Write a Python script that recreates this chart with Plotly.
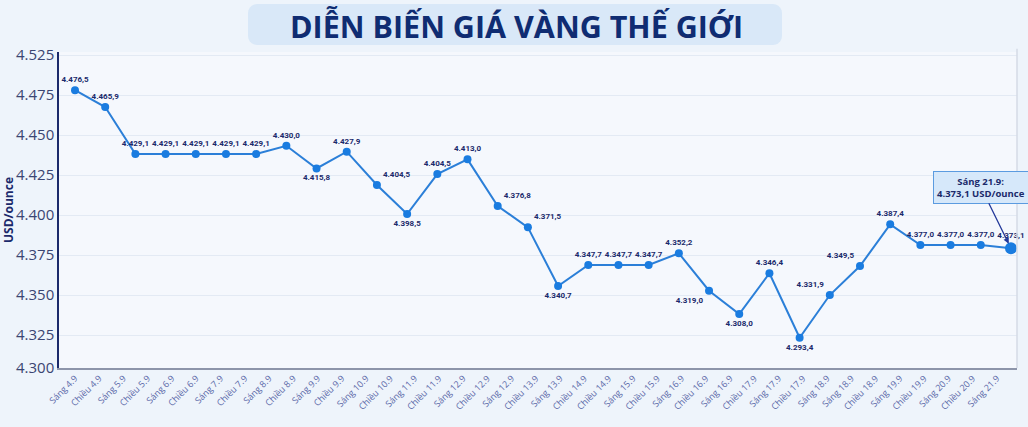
import numpy as np
import plotly.graph_objects as go

W, H = 1028, 427
NAVY = '#1b2a6b'
BLUE = '#2b7fd8'

# x-axis tick labels (39 sessions as printed)
session_labels = [
    'Sáng 4.9', 'Chiều 4.9', 'Sáng 5.9', 'Chiều 5.9', 'Sáng 6.9', 'Chiều 6.9',
    'Sáng 7.9', 'Chiều 7.9', 'Sáng 8.9', 'Chiều 8.9', 'Sáng 9.9', 'Chiều 9.9',
    'Sáng 10.9', 'Chiều 10.9', 'Sáng 11.9', 'Chiều 11.9', 'Sáng 12.9', 'Chiều 12.9',
    'Sáng 12.9', 'Chiều 13.9', 'Sáng 13.9', 'Chiều 14.9', 'Chiều 14.9', 'Sáng 15.9',
    'Chiều 15.9', 'Sáng 16.9', 'Chiều 16.9', 'Sáng 16.9', 'Chiều 17.9', 'Sáng 17.9',
    'Chiều 17.9', 'Sáng 18.9', 'Sáng 18.9', 'Chiều 18.9', 'Sáng 19.9', 'Chiều 19.9',
    'Sáng 20.9', 'Chiều 20.9', 'Sáng 21.9',
]

# plotted levels
price_level = [
    4.478, 4.4675, 4.4381, 4.4381, 4.4381, 4.4381, 4.4381, 4.4433,
    4.4291, 4.4396, 4.4188, 4.4006, 4.4256, 4.4348, 4.4056, 4.3923,
    4.3556, 4.3688, 4.3688, 4.3688, 4.3761, 4.3527, 4.3381, 4.3636,
    4.3233, 4.3500, 4.3681, 4.3942, 4.3813, 4.3813, 4.3813, 4.3792,
]

# printed value labels
price_text = [
    '4.476,5', '4.465,9', '4.429,1', '4.429,1', '4.429,1', '4.429,1', '4.429,1', '4.430,0',
    '4.415,8', '4.427,9', '4.404,5', '4.398,5', '4.404,5', '4.413,0', '4.376,8', '4.371,5',
    '4.340,7', '4.347,7', '4.347,7', '4.347,7', '4.352,2', '4.319,0', '4.308,0', '4.346,4',
    '4.293,4', '4.331,9', '4.349,5', '4.387,4', '4.377,0', '4.377,0', '4.377,0', '4.373,1',
]

# y tick labels as printed on the chart
y_tick_text = ['4.300', '4.325', '4.350', '4.375', '4.400', '4.425', '4.450', '4.475', '4.525']
y_tick_vals = [4.3044, 4.325, 4.35, 4.375, 4.4, 4.425, 4.45, 4.475, 4.5]

label_pos = (
    ['top center'] * 8
    + ['bottom center', 'top center', 'top right', 'bottom center', 'top center', 'top center',
       'top right', 'top right', 'bottom center']
    + ['top center'] * 4
    + ['bottom left', 'bottom center', 'top center', 'bottom center', 'top left', 'top left',
       'top center', 'top center', 'top center', 'top center', 'top center']
)

n = len(price_level)
xs = list(range(n))
sizes = [8] * (n - 1) + [12]

fig = go.Figure()
fig.add_trace(go.Scatter(
    x=xs, y=price_level,
    mode='lines+markers+text',
    line=dict(color=BLUE, width=2),
    marker=dict(color='#1a7ce0', size=sizes, opacity=1, line=dict(width=0)),
    text=price_text,
    textposition=label_pos,
    textfont=dict(family='Roboto', size=8, color=NAVY, weight='bold'),
    cliponaxis=False,
    showlegend=False,
))

L, R, T, B = 59, 11, 52, 59
pw, ph = W - L - R, H - T - B


def px_to_paper(px, py):
    return (px - L) / pw, (H - B - py) / ph


def rounded_box(x0, y0, x1, y1, r):
    # rounded rectangle given in page pixels, returned as a paper-space path
    pts = []
    for cx, cy, a0 in [(x1 - r, y0 + r, -90), (x1 - r, y1 - r, 0), (x0 + r, y1 - r, 90), (x0 + r, y0 + r, 180)]:
        for a in np.linspace(a0, a0 + 90, 6):
            t = np.radians(a)
            pts.append(px_to_paper(cx + r * np.cos(t), cy + r * np.sin(t)))
    return 'M ' + ' L '.join(f'{x:.5f},{y:.5f}' for x, y in pts) + ' Z'


fig.add_shape(type='path', xref='paper', yref='paper', path=rounded_box(248, 4, 782, 45, 9),
              fillcolor='#d9e8f8', line=dict(width=0), layer='below')
tx, ty = px_to_paper(516, 26)
fig.add_annotation(xref='paper', yref='paper', x=tx, y=ty, xanchor='center', yanchor='middle',
                   text='DIỄN BIẾN GIÁ VÀNG THẾ GIỚI', showarrow=False,
                   font=dict(family='Open Sans', size=30.5, color='#0f2c72', weight='bold'))

# right border of plot area
fig.add_shape(type='line', xref='paper', yref='paper', x0=1, x1=1, y0=0, y1=1.01,
              line=dict(color='#d5dbe6', width=1.5))

fig.add_annotation(
    x=xs[-1], y=price_level[-1],
    text='Sáng 21.9:<br>4.373,1 USD/ounce',
    showarrow=True, arrowhead=2, arrowsize=0.9, arrowwidth=1.3, arrowcolor='#23399a',
    ax=-30, ay=-61, standoff=5,
    bgcolor='#d6e8fa', bordercolor='#5b9be0', borderwidth=1, borderpad=3,
    font=dict(family='Open Sans', size=9.5, color=NAVY, weight='bold'),
)

fig.update_xaxes(
    range=[-0.53, 31.2],
    tickvals=np.linspace(0, 30.54, len(session_labels)),
    ticktext=session_labels,
    tickangle=-45,
    tickfont=dict(family='Open Sans', size=9, color='#5a68a8'),
    showgrid=False, zeroline=False,
    showline=True, linecolor='#8d95aa', linewidth=1.5,
    automargin=False,
)
fig.update_yaxes(
    range=[4.3044, 4.5019],
    tickvals=y_tick_vals,
    ticktext=y_tick_text,
    tickfont=dict(family='Open Sans', size=15, color='#3b4572'),
    showgrid=True, gridcolor='#e3eaf4', gridwidth=1, zeroline=False,
    showline=True, linecolor=NAVY, linewidth=1.5,
    title=dict(text='USD/ounce', standoff=4,
               font=dict(family='Open Sans', size=12, color=NAVY, weight='bold')),
    automargin=False,
)

fig.update_layout(
    width=W, height=H,
    margin=dict(l=L, r=R, t=T, b=B, pad=0),
    paper_bgcolor='#eef4fb',
    plot_bgcolor='#f5f8fd',
    font=dict(family='Open Sans'),
)

fig.write_html('out.html', config={'displayModeBar': False},
               post_script="document.body.style.margin='0';")
